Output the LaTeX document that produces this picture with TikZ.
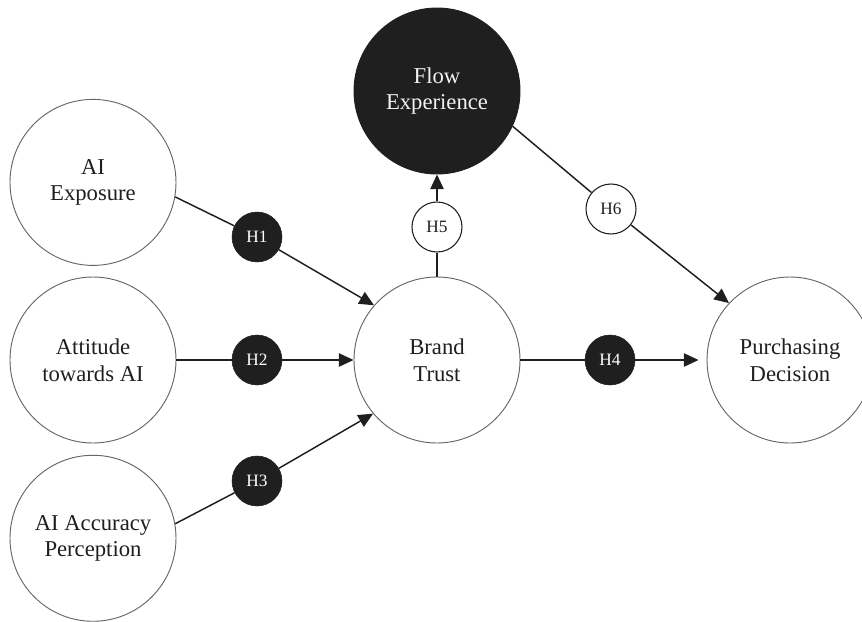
\documentclass[tikz,border=0pt]{standalone}
\usepackage{fontspec}
\setmainfont{Liberation Serif}
\usetikzlibrary{arrows.meta,positioning}
\definecolor{ink}{gray}{0.12}

\begin{document}
\begin{tikzpicture}[x=0.75pt,y=-0.75pt]

\tikzset{construct/.style={font=\fontsize{17}{20}\selectfont,fill=white,draw=black!60,line width=0.7pt,inner sep=0pt,minimum size=124.5pt,shape=circle,align=center,text=ink},
darkconstruct/.style={construct,fill=ink,draw=ink,text=black!5},
hypnode/.style={font=\fontsize{13}{15}\selectfont,fill=ink,draw=ink,inner sep=0pt,minimum size=37.5pt,shape=circle,text=white},
openhyp/.style={hypnode,fill=white,draw=ink,line width=0.8pt,text=ink},
link/.style={draw=ink,line width=1.1pt,-{Triangle[length=11pt,width=10pt]}}}

\useasboundingbox (0,0) rectangle (862,621);

% Constructs
\node[construct] (att) at (93,360) {Attitude\\towards AI};
\node[construct,above=8pt of att] (aiexp) {AI\\Exposure};
\node[construct,below=8.5pt of att] (aiacc) {AI Accuracy\\Perception};
\node[construct] (trust) at (437,360) {Brand\\Trust};
\node[darkconstruct] (flow) at (437,91) {Flow\\Experience};
\node[construct] (decision) at (790,360) {Purchasing\\Decision};

% Hypotheses
\node[hypnode] (h1) at (257,237) {H1};
\node[hypnode] (h2) at (257,360) {H2};
\node[hypnode] (h3) at (257,481) {H3};
\node[hypnode] (h4) at (610,360) {H4};
\node[openhyp] (h5) at (437,227) {H5};
\node[openhyp] (h6) at (611,209) {H6};

% Paths
\draw[link] (aiexp.-10) -- (h1) -- (trust.139);
\draw[link] (att.east) -- (h2) -- (trust.west);
\draw[link] (aiacc.10) -- (h3) -- (trust.220);
\draw[link,shorten >=6pt] (trust.east) -- (h4) -- (decision.west);
\draw[link] (trust.north) -- (h5) -- (flow.south);
\draw[link] (flow.-25) -- (h6) -- (decision.137);

\end{tikzpicture}
\end{document}
